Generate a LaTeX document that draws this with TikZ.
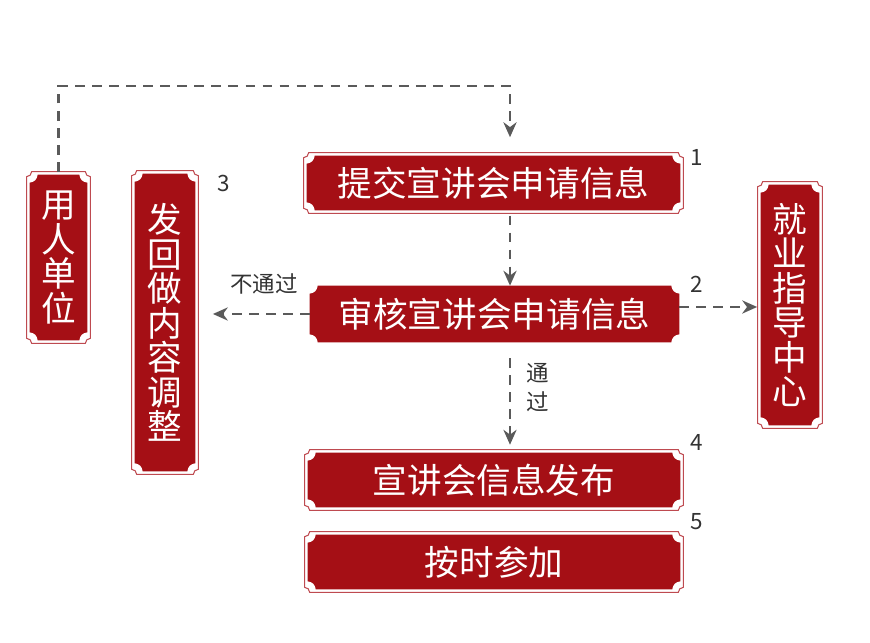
\documentclass[tikz,border=0pt]{standalone}
\usepackage{fontspec}
\setmainfont{Noto Sans CJK SC}
\usetikzlibrary{calc,arrows.meta,backgrounds}
\definecolor{scrollred}{HTML}{A50F15}
\definecolor{framered}{HTML}{BE4A50}
\definecolor{arrowgray}{HTML}{5A5A5A}
\definecolor{labelgray}{HTML}{333333}
% concave-cornered outline round a node: node, offset, corner radius
\newcommand{\scrollpath}[3]{%
  let \p1=($(#1.south west)+(-#2,-#2)$), \p2=($(#1.north east)+(#2,#2)$) in
  (\x1+#3,\y2) -- (\x2-#3,\y2) arc[start angle=180,end angle=270,radius=#3]
  -- (\x2,\y1+#3) arc[start angle=90,end angle=180,radius=#3]
  -- (\x1+#3,\y1) arc[start angle=0,end angle=90,radius=#3]
  -- (\x1,\y2-#3) arc[start angle=270,end angle=360,radius=#3] -- cycle}
\tikzset{
  box/.style={text=white, inner sep=0, font=\fontsize{19.7}{19.6}\selectfont},
  vbox/.style={box, align=center},
  num/.style={text=labelgray, font=\fontsize{12.8}{16.5}\selectfont},
  frameline/.style={draw=framered, line width=0.6pt},
  flow/.style={draw=arrowgray, line width=1.3pt, dash pattern=on 5.5pt off 4.2pt,
    -{Stealth[length=8.5pt,width=7.5pt]}}
}

\begin{document}
\begin{tikzpicture}[x=0.02cm,y=0.02cm]
    \useasboundingbox (0,0) rectangle (870,643);

    % Main column
    \node[box, minimum width=7.46cm, minimum height=1.08cm] (b1) at (493.5,460) {提交宣讲会申请信息};
    \node[box, minimum width=7.38cm, minimum height=1.12cm] (b2) at (494.5,329) {审核宣讲会申请信息};
    \node[box, minimum width=7.44cm, minimum height=1.08cm] (b4) at (494,163) {宣讲会信息发布};
    \node[box, minimum width=7.44cm, minimum height=1.08cm] (b5) at (494,81) {按时参加};

    % Side columns
    \node[vbox, minimum width=1.14cm, minimum height=3.3cm] (u) at (58.5,385.5) {用\\人\\单\\位};
    \node[vbox, minimum width=1.2cm, minimum height=5.94cm] (f) at (165,320.5) {发\\回\\做\\内\\容\\调\\整};
    \node[vbox, minimum width=1.16cm, minimum height=4.8cm] (j) at (790,338) {就\\业\\指\\导\\中\\心};

    % Scroll backgrounds
    \begin{scope}[on background layer]
        \foreach \bx in {b1,b4,b5,u,f,j}
            \draw[frameline] \scrollpath{\bx}{0.06cm}{0.1cm};
        \foreach \bx in {b1,b2,b4,b5,u,f,j}
            \fill[scrollred] \scrollpath{\bx}{0cm}{0.16cm};
    \end{scope}

    % Step numbers
    \node[num] (n1) at (697,486) {1};
    \node[num] (n2) at (697,359) {2};
    \node[num] (n3) at (224,460) {3};
    \node[num] (n4) at (697,201) {4};
    \node[num] (n5) at (697,121) {5};

    % Connectors
    \coordinate (spine) at (510,0);
    \coordinate (loop) at (510,557);
    \coordinate (r2) at ($(b2.east)+(0,7)$);
    \draw[flow, shorten >=10.5pt] ($(u.north)+(0,0.06cm)$) |- (loop) -- (b1.north -| spine);
    \draw[flow, shorten <=3pt] (b1.south -| spine) -- (b2.north -| spine);
    \draw[flow, shorten >=10pt] (b2.west) -- (b2.west -| f.east);
    \draw[flow, shorten >=2pt] (r2) -- (r2 -| j.west);
    \draw[flow, shorten <=9pt, shorten >=4.5pt] (b2.south -| spine) -- (b4.north -| spine);

    % Branch labels
    \node[num] (no) at (264,359) {不通过};
    \node[num, align=center] (yes) at (538,255) {通\\过};

\end{tikzpicture}
\end{document}
